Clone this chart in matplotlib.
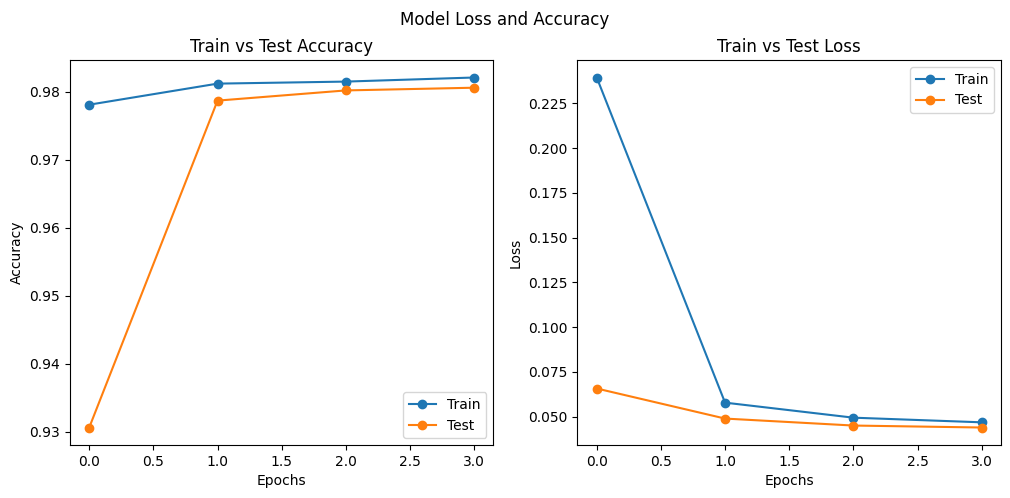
import matplotlib
matplotlib.use("Agg")
import matplotlib.pyplot as plt

epochs = [0, 1, 2, 3]
train_acc = [0.9781, 0.9812, 0.9815, 0.9821]
test_acc = [0.9306, 0.9787, 0.9802, 0.9806]
train_loss = [0.2395, 0.0578, 0.0494, 0.0468]
test_loss = [0.0657, 0.0489, 0.0450, 0.0439]

fig, (ax1, ax2) = plt.subplots(1, 2, figsize=(10.1, 4.98), dpi=100)
fig.subplots_adjust(left=0.0693, right=0.991, bottom=0.1064, top=0.8795, wspace=0.1986)

ax1.plot(epochs, train_acc, marker="o", label="Train")
ax1.plot(epochs, test_acc, marker="o", label="Test")
ax1.set_title("Train vs Test Accuracy")
ax1.set_xlabel("Epochs")
ax1.set_ylabel("Accuracy")
ax1.legend(loc="lower right")

ax2.plot(epochs, train_loss, marker="o", label="Train")
ax2.plot(epochs, test_loss, marker="o", label="Test")
ax2.set_title("Train vs Test Loss")
ax2.set_xlabel("Epochs")
ax2.set_ylabel("Loss")
ax2.legend(loc="upper right")

fig.suptitle("Model Loss and Accuracy", y=0.978)
fig.savefig("out.png")
